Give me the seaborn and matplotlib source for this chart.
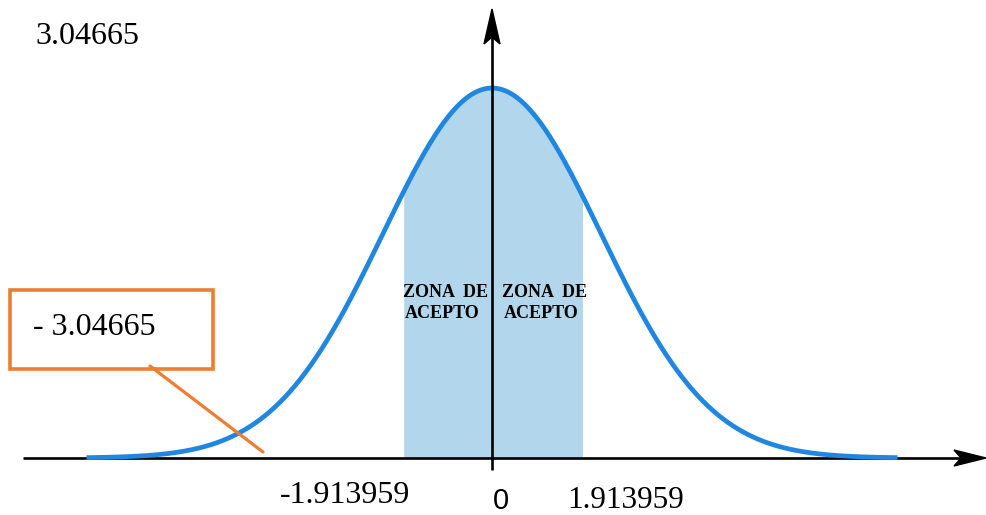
import numpy as np
import pandas as pd
import matplotlib
matplotlib.use("Agg")
import matplotlib.pyplot as plt
import seaborn as sns
from matplotlib.patches import Rectangle, Polygon

# ---- data ----
mean = 0.0
std = 1.0
curve_range = [-3.72, 3.72]
accept_range = [-0.81, 0.83]
upper_label = "3.04665"
lower_label = "- 3.04665"
tick_labels = ["-1.913959", "0", "1.913959"]
zone_lines = ["ZONA  DE", "ACEPTO"]

z = np.linspace(curve_range[0], curve_range[1], 800)
density = np.exp(-0.5 * ((z - mean) / std) ** 2)
df = pd.DataFrame({"z": z, "density": density})
zf = np.linspace(accept_range[0], accept_range[1], 300)
df_fill = pd.DataFrame({"z": zf, "density": np.exp(-0.5 * ((zf - mean) / std) ** 2)})

sns.set_theme(style="white")
plt.rcParams["font.family"] = ["Liberation Serif", "DejaVu Serif"]

W, H = 987, 515
fig = plt.figure(figsize=(W / 100, H / 100), dpi=100)
ax = fig.add_axes([0, 0, 1, 1])
X0, SX = 492, 109   # pixel of mean, pixels per std
Y0, SY = 458, 370   # baseline pixel, pixels per unit height
ax.set_xlim(-X0 / SX, (W - X0) / SX)
ax.set_ylim(-(H - Y0) / SY, Y0 / SY)
ax.axis("off")

def dx(px):
    return (px - X0) / SX

def dy(py):
    return (Y0 - py) / SY

def fx(px):
    return px / W

def fy(py):
    return 1 - py / H

# shaded acceptance zone
ax.fill_between(df_fill["z"], 0, df_fill["density"], color="#b2d6ec", lw=0, zorder=1)

# x axis with arrow
ax.plot([dx(23), dx(965)], [0, 0], color="black", lw=1.9, zorder=2, solid_capstyle="butt")
ax.add_patch(Polygon([(dx(986), dy(458)), (dx(954), dy(450)), (dx(961), dy(458)), (dx(954), dy(466))],
                     closed=True, color="black", zorder=2))

# normal curve
sns.lineplot(data=df, x="z", y="density", color="#1f87e2", lw=3.4, ax=ax, zorder=3)
for l in ax.lines:
    l.set_solid_capstyle("butt")

# vertical axis with arrow
ax.plot([0, 0], [dy(470), dy(30)], color="black", lw=1.9, zorder=4, solid_capstyle="butt")
ax.add_patch(Polygon([(dx(492), dy(9)), (dx(484), dy(44)), (dx(492), dy(37)), (dx(500), dy(44))],
                     closed=True, color="black", zorder=4))

# labels
ax.text(fx(35), fy(44), upper_label, transform=ax.transAxes, fontsize=23,
        ha="left", va="baseline", color="black", zorder=6)
ax.add_patch(Rectangle((fx(10), fy(369)), fx(213) - fx(10), fy(290) - fy(369), transform=ax.transAxes,
                       fill=True, fc="white", ec="#ED7D31", lw=2.6, zorder=5))
ax.text(fx(33), fy(335), lower_label, transform=ax.transAxes, fontsize=23,
        ha="left", va="baseline", color="black", zorder=6)
ax.plot([fx(150), fx(263)], [fy(366), fy(452)], transform=ax.transAxes, color="#ED7D31", lw=2.3, zorder=5)

ax.text(fx(280), fy(503), tick_labels[0], transform=ax.transAxes, fontsize=23,
        ha="left", va="baseline", color="black", zorder=6)
ax.text(fx(501), fy(509), tick_labels[1], transform=ax.transAxes, fontsize=21,
        ha="center", va="baseline", color="black", family=["Liberation Sans", "DejaVu Sans"], zorder=6)
ax.text(fx(567), fy(508), tick_labels[2], transform=ax.transAxes, fontsize=22.5,
        ha="left", va="baseline", color="black", zorder=6)

for x0 in (403, 502):
    ax.text(fx(x0), fy(297), zone_lines[0], transform=ax.transAxes, fontsize=13, fontweight="bold",
            ha="left", va="baseline", color="black", zorder=6)
    ax.text(fx(x0 + 2), fy(318), zone_lines[1], transform=ax.transAxes, fontsize=13, fontweight="bold",
            ha="left", va="baseline", color="black", zorder=6)

fig.savefig("out.png", dpi=100, facecolor="white")
